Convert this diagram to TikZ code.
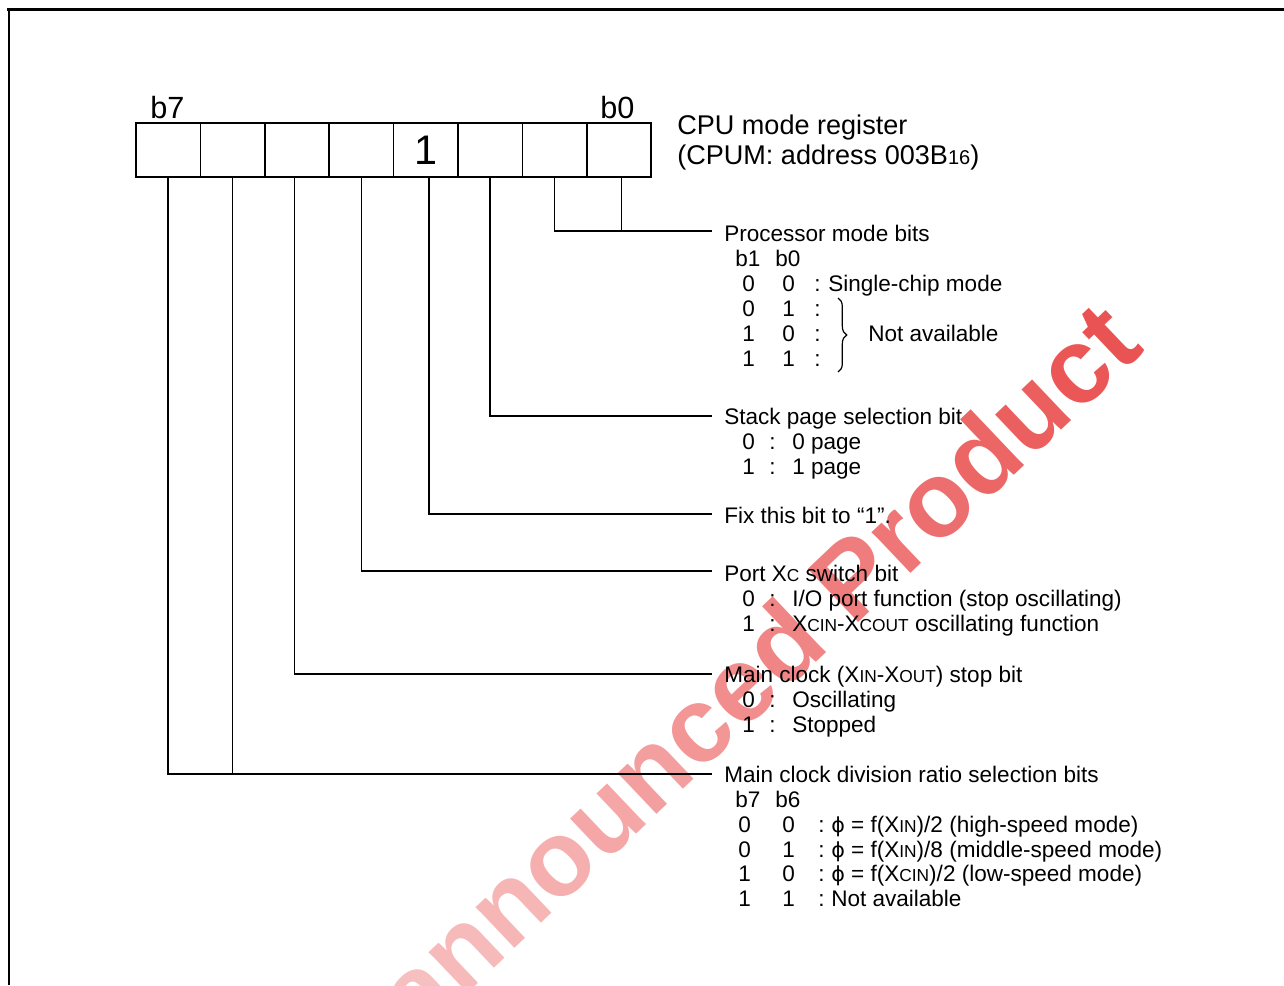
\documentclass[tikz,border=0pt]{standalone}
\usepackage{fontspec}
\setmainfont{Liberation Sans}
\newfontfamily\phifont{DejaVu Sans}
\usetikzlibrary{decorations.pathreplacing}
\definecolor{wmred}{RGB}{232,64,64}
% smaller capitals after X, and the small 16 of the address
\newcommand{\smc}[1]{{\fontsize{13}{13}\selectfont #1}}
\newcommand{\smt}[1]{{\fontsize{15}{15}\selectfont #1}}
\newcommand{\phis}{{\phifont\fontsize{15.5}{16}\selectfont ϕ}}
% one watermark letter, shade given in percent
\newcommand{\wl}[2]{\textcolor{wmred!#1!white}{#2}}

\tikzset{
  regcell/.style={draw, line width=1.1pt, minimum width=48.3pt, minimum height=40.5pt, inner sep=0pt},
  lead/.style={line width=1.1pt},
  txt/.style={anchor=base west, inner sep=0pt, font=\fontsize{16.9}{18}\selectfont},
  big/.style={anchor=base west, inner sep=0pt, font=\fontsize{20.3}{22}\selectfont},
}

\begin{document}
\begin{tikzpicture}[x=0.75pt,y=0.75pt,yscale=-1,xscale=1]
\useasboundingbox (0,0) rectangle (1284,985);
% watermark
\begin{scope}
\clip (0,0) rectangle (1284,985);
\node[rotate=43.5, anchor=base east, inner sep=0pt, font=\bfseries\fontsize{80}{80}\selectfont] (wm) at (1146,350)
  {\wl{28}{U}\wl{30}{n}\wl{33}{a}\wl{36}{n}\wl{38}{n}\wl{42}{o}\wl{46}{u}\wl{50}{n}\wl{55}{c}\wl{60}{e}\wl{64}{d} \wl{68}{P}\wl{72}{r}\wl{76}{o}\wl{80}{d}\wl{84}{u}\wl{88}{c}\wl{90}{t}};
\end{scope}
% frame
\draw[line width=2.3pt] (7,9.5) -- (1284,9.5);
\draw[line width=1.5pt] (9,9.5) -- (9,985);
% register cells, c7 on the left
\foreach \i in {0,...,7}
  \node[regcell] (c\i) at ({168.2+64.4*(7-\i)},150) {};
\node[inner sep=0pt, font=\fontsize{31}{31}\selectfont] (bitone) at (c3.center) {1};
\node[anchor=base west, inner sep=0pt, font=\fontsize{23}{23}\selectfont] (lbseven) at (150,118) {b7};
\node[anchor=base west, inner sep=0pt, font=\fontsize{23}{23}\selectfont] (lbzero) at (600,118) {b0};
\node[big] (titleone) at (677,134) {CPU mode register};
\node[big] (titletwo) at (677,164) {(CPUM: address 003B\smt{16})};
% ends of the leader lines
\coordinate (pmend) at (712,231);
\coordinate (spend) at (712,416);
\coordinate (fxend) at (712,514);
\coordinate (ptend) at (712,571);
\coordinate (msend) at (712,674);
\coordinate (dvend) at (712,774);
% leader lines
\draw[lead] (c1.south) |- (pmend);
\draw[lead] ([xshift=2pt]c0.south) -- ([xshift=2pt]c0.south |- pmend);
\draw[lead] (c2.south) |- (spend);
\draw[lead] ([xshift=2.5pt]c3.south) |- (fxend);
\draw[lead] (c4.south) |- (ptend);
\draw[lead] ([xshift=-2pt]c5.south) |- (msend);
\draw[lead] (c7.south) |- (dvend);
\draw[lead] (c6.south) -- (c6.south |- dvend);
% processor mode bits
\node[txt] (pmhead) at (724,241) {Processor mode bits};
\node[txt] (pmbone) at (735,266) {b1};
\node[txt] (pmbzero) at (775,266) {b0};
\node[txt] (pmaa) at (742,291) {0};  \node[txt] (pmab) at (782,291) {0};  \node[txt] (pmac) at (814,291) {:};
\node[txt] (pmba) at (742,316) {0};  \node[txt] (pmbb) at (782,316) {1};  \node[txt] (pmbc) at (814,316) {:};
\node[txt] (pmca) at (742,341) {1};  \node[txt] (pmcb) at (782,341) {0};  \node[txt] (pmcc) at (814,341) {:};
\node[txt] (pmda) at (742,366) {1};  \node[txt] (pmdb) at (782,366) {1};  \node[txt] (pmdc) at (814,366) {:};
\node[txt] (pmsingle) at (828,291) {Single-chip mode};
\draw[line width=0.9pt, decorate, decoration={brace, amplitude=6.5pt}] (838,298) -- (838,372);
\node[txt] (pmna) at (868,341) {Not available};
% stack page selection bit
\node[txt] (sphead) at (724,424) {Stack page selection bit};
\node[txt] (spaa) at (742,449) {0};  \node[txt] (spac) at (769,449) {:};  \node[txt] (spat) at (792,449) {0 page};
\node[txt] (spba) at (742,474) {1};  \node[txt] (spbc) at (769,474) {:};  \node[txt] (spbt) at (792,474) {1 page};
% fixed bit
\node[txt] (fxhead) at (724,523) {Fix this bit to “1”.};
% port Xc switch bit
\node[txt] (pthead) at (724,581) {Port X\smc{C} switch bit};
\node[txt] (ptaa) at (742,606) {0};  \node[txt] (ptac) at (769,606) {:};  \node[txt] (ptat) at (792,606) {I/O port function (stop oscillating)};
\node[txt] (ptba) at (742,631) {1};  \node[txt] (ptbc) at (769,631) {:};  \node[txt] (ptbt) at (792,631) {X\smc{CIN}-X\smc{COUT} oscillating function};
% main clock stop bit
\node[txt] (mshead) at (724,682) {Main clock (X\smc{IN}-X\smc{OUT}) stop bit};
\node[txt] (msaa) at (742,707) {0};  \node[txt] (msac) at (769,707) {:};  \node[txt] (msat) at (792,707) {Oscillating};
\node[txt] (msba) at (742,732) {1};  \node[txt] (msbc) at (769,732) {:};  \node[txt] (msbt) at (792,732) {Stopped};
% main clock division ratio
\node[txt] (dvhead) at (724,782) {Main clock division ratio selection bits};
\node[txt] (dvbseven) at (735,807) {b7};
\node[txt] (dvbsix) at (775,807) {b6};
\node[txt] (dvaa) at (738,832) {0};  \node[txt] (dvab) at (782,832) {0};  \node[txt] (dvac) at (818,832) {:};
\node[txt] (dvba) at (738,857) {0};  \node[txt] (dvbb) at (782,857) {1};  \node[txt] (dvbc) at (818,857) {:};
\node[txt] (dvca) at (738,881) {1};  \node[txt] (dvcb) at (782,881) {0};  \node[txt] (dvcc) at (818,881) {:};
\node[txt] (dvda) at (738,906) {1};  \node[txt] (dvdb) at (782,906) {1};  \node[txt] (dvdc) at (818,906) {:};
\node[txt] (dvat) at (831,832) {\phis{} = f(X\smc{IN})/2 (high-speed mode)};
\node[txt] (dvbt) at (831,857) {\phis{} = f(X\smc{IN})/8 (middle-speed mode)};
\node[txt] (dvct) at (831,881) {\phis{} = f(X\smc{CIN})/2 (low-speed mode)};
\node[txt] (dvdt) at (831,906) {Not available};
\end{tikzpicture}
\end{document}
